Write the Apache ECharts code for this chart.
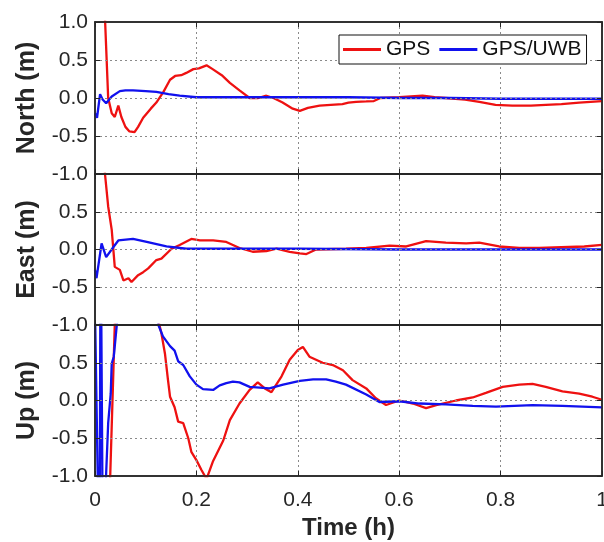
<!DOCTYPE html>
<html>
<head>
<meta charset="utf-8">
<script src="https://cdn.jsdelivr.net/npm/echarts@6/dist/echarts.min.js"></script>
<style>html,body{margin:0;padding:0;background:#fff;}#c{width:604px;height:542px;}</style>
</head>
<body>
<div id="c"></div>
<script>
// ---- data (time in hours, error in metres) ----
const panelNames = ['North (m)', 'East (m)', 'Up (m)'];
const seriesNames = ['GPS', 'GPS/UWB'];
const xTicks = [0, 0.2, 0.4, 0.6, 0.8, 1];
const yTicks = [-1, -0.5, 0, 0.5, 1];

const northGps = [[0.014,2.0],[0.02,1.0],[0.026,0.0],[0.033,-0.2],[0.039,-0.25],[0.046,-0.1],[0.052,-0.25],[0.06,-0.38],[0.068,-0.44],[0.078,-0.45],[0.085,-0.38],[0.095,-0.26],[0.11,-0.14],[0.121,-0.06],[0.135,0.08],[0.148,0.24],[0.158,0.29],[0.17,0.30],[0.18,0.33],[0.194,0.38],[0.205,0.39],[0.22,0.43],[0.232,0.38],[0.25,0.3],[0.266,0.2],[0.285,0.1],[0.305,0.0],[0.322,0.0],[0.338,0.03],[0.352,0.0],[0.37,-0.06],[0.39,-0.14],[0.404,-0.17],[0.42,-0.13],[0.443,-0.10],[0.465,-0.09],[0.488,-0.08],[0.50,-0.06],[0.515,-0.05],[0.535,-0.045],[0.55,-0.04],[0.563,0.0],[0.6,0.01],[0.646,0.03],[0.67,0.01],[0.692,0.0],[0.73,-0.02],[0.758,-0.05],[0.79,-0.09],[0.823,-0.10],[0.86,-0.10],[0.889,-0.09],[0.92,-0.08],[0.955,-0.06],[1.0,-0.04]];
const northUwb = [[0,-0.2],[0.004,-0.26],[0.01,0.05],[0.015,-0.02],[0.022,-0.07],[0.033,0.02],[0.049,0.09],[0.06,0.1],[0.075,0.1],[0.1,0.09],[0.121,0.08],[0.145,0.05],[0.167,0.03],[0.2,0.01],[0.3,0.01],[0.4,0.01],[0.5,0.01],[0.6,0.0],[0.7,0.0],[0.8,-0.01],[0.9,-0.01],[1.0,-0.01]];

const eastGps = [[0.014,1.6],[0.0197,1.0],[0.026,0.57],[0.033,0.26],[0.039,-0.23],[0.049,-0.27],[0.056,-0.41],[0.066,-0.38],[0.072,-0.43],[0.085,-0.34],[0.095,-0.3],[0.105,-0.25],[0.121,-0.14],[0.131,-0.12],[0.151,0.01],[0.167,0.06],[0.19,0.14],[0.207,0.12],[0.22,0.12],[0.233,0.12],[0.259,0.10],[0.285,0.02],[0.311,-0.03],[0.338,-0.02],[0.358,0.01],[0.384,-0.03],[0.404,-0.05],[0.417,-0.06],[0.436,0.0],[0.495,0.01],[0.535,0.02],[0.581,0.05],[0.614,0.04],[0.653,0.11],[0.692,0.09],[0.732,0.08],[0.758,0.09],[0.797,0.04],[0.837,0.02],[0.876,0.02],[0.92,0.03],[0.965,0.04],[1.0,0.06]];
const eastUwb = [[0,-0.27],[0.003,-0.38],[0.013,0.08],[0.022,-0.1],[0.036,0.03],[0.046,0.12],[0.075,0.14],[0.102,0.1],[0.141,0.04],[0.18,0.01],[0.2,0.01],[0.4,0.01],[0.6,0.0],[0.8,0.0],[1.0,0.0]];

const upGps = [[0.02,-2.2],[0.03,-1.0],[0.039,1.0],[0.045,2.2],[0.07,3.0],[0.1,3.0],[0.12,1.2],[0.131,0.89],[0.138,0.62],[0.144,0.27],[0.148,0.05],[0.157,-0.09],[0.164,-0.28],[0.174,-0.3],[0.184,-0.5],[0.19,-0.68],[0.2,-0.79],[0.21,-0.92],[0.22,-1.04],[0.233,-0.8],[0.253,-0.53],[0.266,-0.26],[0.285,-0.04],[0.305,0.14],[0.321,0.24],[0.335,0.16],[0.348,0.11],[0.368,0.32],[0.384,0.54],[0.4,0.67],[0.41,0.71],[0.423,0.58],[0.449,0.5],[0.469,0.47],[0.489,0.4],[0.508,0.27],[0.535,0.16],[0.554,0.03],[0.574,-0.06],[0.6,0.0],[0.627,-0.04],[0.653,-0.10],[0.673,-0.06],[0.712,0.0],[0.745,0.04],[0.771,0.10],[0.804,0.18],[0.837,0.21],[0.863,0.22],[0.889,0.18],[0.922,0.12],[0.955,0.09],[0.981,0.05],[1.0,0.01]];
const upUwb = [[0.0,1.2],[0.009,-2.5],[0.011,2.5],[0.016,-2.5],[0.02,-1.3],[0.026,-0.3],[0.031,0.09],[0.033,0.49],[0.037,0.58],[0.043,1.0],[0.05,2.0],[0.08,3.0],[0.11,3.0],[0.12,1.3],[0.125,1.0],[0.134,0.85],[0.148,0.72],[0.157,0.66],[0.164,0.52],[0.174,0.47],[0.187,0.32],[0.2,0.21],[0.213,0.15],[0.233,0.14],[0.246,0.2],[0.259,0.23],[0.272,0.25],[0.285,0.24],[0.305,0.18],[0.325,0.17],[0.344,0.16],[0.371,0.21],[0.404,0.26],[0.43,0.28],[0.456,0.28],[0.475,0.25],[0.495,0.21],[0.535,0.08],[0.561,-0.02],[0.6,-0.01],[0.64,-0.04],[0.692,-0.05],[0.745,-0.07],[0.791,-0.08],[0.863,-0.06],[0.922,-0.07],[1.0,-0.09]];

const panelData = [[northGps, northUwb], [eastGps, eastUwb], [upGps, upUwb]];
const colors = ['#ee1111', '#1111ee'];

// ---- build option ----
const FONT = 'Liberation Sans, Arial, sans-serif';
const axisCol = '#262626';
const grids = [], xAxes = [], yAxes = [], series = [];
const tops = [22, 174, 325];
const heights = [152, 151, 151];
const fmtX = v => (v === 0 || v === 1) ? String(v) : v.toFixed(1);
const lineAx = () => ({show: true, onZero: false, lineStyle: {color: axisCol, width: 1.5}});
const tickAx = () => ({show: true, inside: true, length: 5, lineStyle: {color: axisCol}});
const gridLine = () => ({show: true, showMinLine: false, showMaxLine: false,
  lineStyle: {color: '#8a8a8a', type: [2, 3], width: 1}});

for (let i = 0; i < 3; i++) {
  grids.push({left: 95, right: 2, top: tops[i], height: heights[i], containLabel: false,
    outerBoundsMode: 'none',
    show: true, borderColor: axisCol, borderWidth: 1.5, backgroundColor: 'transparent'});
  const last = i === 2;
  xAxes.push({
    type: 'value', gridIndex: i, min: xTicks[0], max: xTicks[xTicks.length-1], interval: 0.2,
    position: 'bottom', axisLine: lineAx(), axisTick: tickAx(), z: 5,
    axisLabel: {show: last, formatter: fmtX, color: '#262626', fontSize: 21, fontFamily: FONT, margin: 14},
    splitLine: gridLine(),
    name: last ? 'Time (h)' : '', nameLocation: 'middle', nameGap: 40,
    nameTextStyle: {fontSize: 24, fontWeight: 'bold', color: '#262626', fontFamily: FONT}
  });
  xAxes.push({
    type: 'value', gridIndex: i, min: 0, max: 1, interval: 0.2, position: 'top', z: 5,
    axisLine: lineAx(), axisTick: tickAx(),
    axisLabel: {show: false}, splitLine: {show: false}
  });
  yAxes.push({
    type: 'value', gridIndex: i, min: yTicks[0], max: yTicks[yTicks.length-1], interval: 0.5,
    position: 'left', axisLine: lineAx(), axisTick: tickAx(), z: 5,
    axisLabel: {
      formatter: v => (i > 0 && v === 1) ? '' : v.toFixed(1),
      color: '#262626', fontSize: 21, fontFamily: FONT, margin: 7
    },
    splitLine: gridLine(),
    name: panelNames[i], nameLocation: 'middle', nameGap: 55,
    nameTextStyle: {fontSize: 25, fontWeight: 'bold', color: '#262626', fontFamily: FONT}
  });
  yAxes.push({
    type: 'value', gridIndex: i, min: -1, max: 1, interval: 0.5, position: 'right', z: 5,
    axisLine: lineAx(), axisTick: tickAx(),
    axisLabel: {show: false}, splitLine: {show: false}
  });
  for (let s = 0; s < 2; s++) {
    series.push({
      name: seriesNames[s], type: 'line', xAxisIndex: 2*i, yAxisIndex: 2*i,
      data: panelData[i][s], showSymbol: false, symbol: 'none', clip: true,
      lineStyle: {color: colors[s], width: 2.3}, itemStyle: {color: colors[s]},
      z: 3 + s
    });
  }
}

const chart = echarts.init(document.getElementById('c'), null, {renderer: 'canvas'});
chart.setOption({
  animation: false,
  backgroundColor: '#fff',
  grid: grids, xAxis: xAxes, yAxis: yAxes, series: series,
  legend: {
    data: seriesNames, left: 339, top: 35, orient: 'horizontal', z: 10,
    icon: 'rect', itemWidth: 38, itemHeight: 3, itemGap: 9,
    padding: [4, 5, 4, 4], borderColor: '#111', borderWidth: 1, backgroundColor: '#fff',
    textStyle: {fontSize: 21, color: '#111', fontFamily: FONT}
  }
});
</script>
</body>
</html>
